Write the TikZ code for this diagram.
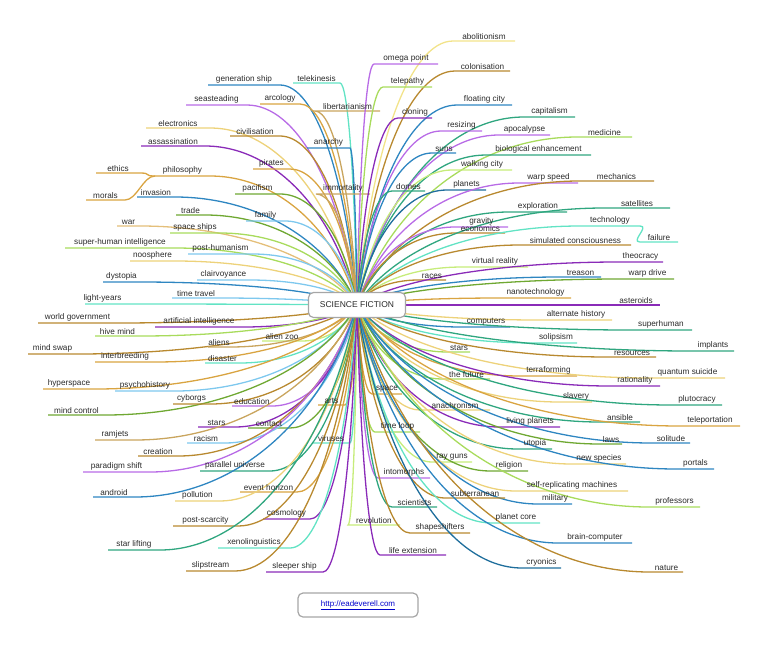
\documentclass[tikz,border=0pt]{standalone}
\usepackage{fontspec}
\setmainfont{Liberation Sans}
\usetikzlibrary{calc}
\pgfdeclarelayer{bg}
\pgfsetlayers{bg,main}
\definecolor{bl}{HTML}{2E86C1}
\definecolor{db}{HTML}{1F6E9C}
\definecolor{lb}{HTML}{7EC8EE}
\definecolor{pu}{HTML}{8A2BB8}
\definecolor{lp}{HTML}{B86BE6}
\definecolor{go}{HTML}{D9A441}
\definecolor{lgo}{HTML}{EDD27A}
\definecolor{br}{HTML}{B8892F}
\definecolor{tn}{HTML}{C9A55E}
\definecolor{te}{HTML}{2FA67F}
\definecolor{aq}{HTML}{62E3C4}
\definecolor{gr}{HTML}{6FA832}
\definecolor{lg}{HTML}{A8DB5C}
\definecolor{yg}{HTML}{C6EC7A}
\definecolor{ye}{HTML}{F2E38A}
\definecolor{txt}{HTML}{2A2A2A}
\newcommand\br[6]{%
 \coordinate (#1a) at (#2,#4); \coordinate (#1b) at (#3,#4);
 \pgfmathtruncatemacro\sd{#3<357}%
 \ifnum\sd=1 \def\ex{#3}\def\en{#1b}\def\eo{#1a}\else\def\ex{#2}\def\en{#1a}\def\eo{#1b}\fi
 \pgfmathsetmacro\cax{357+0.15*(\ex-357)}%
 \pgfmathsetmacro\cay{305+0.6*(#4-305)}%
 \pgfmathsetmacro\cbx{\ex-0.45*(\ex-357)}%
 \begin{pgfonlayer}{bg}
 \draw[con,#5] (root.center) .. controls (\cax,\cay) and (\cbx,#4) .. (\en) -- (\eo);
 \end{pgfonlayer}
 \node[lab] (#1) at ($(#1a)!0.5!(#1b)$) {#6};
}
\newcommand\sub[7]{% name parentcoord x1 x2 y color text
 \coordinate (#1a) at (#3,#5); \coordinate (#1b) at (#4,#5);
 \draw[con,#6] (#2) .. controls +(-12,0) and +(12,0) .. (#1b) -- (#1a);
 \node[lab] (#1) at ($(#1a)!0.5!(#1b)$) {#7};
}
\begin{document}
\begin{tikzpicture}[x=1pt,y=-1pt,
 con/.style={line width=1.3pt},
 lab/.style={anchor=south,inner sep=1.2pt,font=\fontsize{8.2}{9}\selectfont,text=txt}]
\useasboundingbox (0,0) rectangle (768,649);
\node[draw=gray!70,line width=1.2pt,rounded corners=5pt,fill=white,minimum width=97pt,minimum height=25pt,font=\fontsize{8.5}{10}\selectfont,text=txt] (root) at (357,305) {SCIENCE FICTION};
\node[draw=gray!70,line width=1.2pt,rounded corners=5pt,fill=white,minimum width=120pt,minimum height=24pt,font=\fontsize{8}{10}\selectfont,text=blue!80!black] (link) at (358,605) {\underline{http://eadeverell.com}};
% top-left
\br{n1}{208}{280}{85}{bl}{generation ship}
\br{n2}{293}{340}{83}{aq}{telekinesis}
\br{n3}{186}{247}{105}{lp}{seasteading}
\br{n4}{260}{300}{104}{go}{arcology}
\br{n5}{315}{380}{111}{tn}{libertarianism}
\br{n6}{146}{210}{128}{lgo}{electronics}
\br{n7}{230}{280}{136}{br}{civilisation}
\br{n8}{141}{205}{146}{pu}{assassination}
\br{n9}{307}{350}{148}{bl}{anarchy}
\br{n10}{253}{290}{169}{go}{pirates}
\br{n12}{155}{210}{176}{go}{philosophy}
\sub{n11}{n12a}{96}{140}{173}{go}{ethics}
\sub{n13}{n12a}{86}{125}{200}{go}{morals}
\br{n14}{137}{175}{197}{bl}{invasion}
\br{n15}{235}{280}{194}{gr}{pacifism}
\br{n16}{316}{370}{194}{tn}{immortality}
\br{n17}{176}{205}{215}{gr}{trade}
\br{n18}{246}{285}{221}{lb}{family}
\br{n19}{117}{140}{226}{go!70}{war}
\br{n20}{170}{220}{233}{lg}{space ships}
\br{n21}{65}{175}{248}{lg}{super-human intelligence}
\br{n22}{188}{253}{254}{lb}{post-humanism}
\br{n23}{130}{175}{261}{lgo}{noosphere}
\br{n24}{103}{140}{282}{bl}{dystopia}
\br{n25}{197}{250}{280}{lb}{clairvoyance}
\br{n26}{85}{120}{304}{aq}{light-years}
\br{n27}{172}{220}{298}{lb}{time travel}
% bottom-left
\br{n28}{38}{117}{323}{br}{world government}
\br{n29}{155}{243}{327}{pu}{artificial intelligence}
\br{n30}{95}{140}{336}{lg}{hive mind}
\br{n31}{262}{302}{341}{yg}{alien zoo}
\br{n32}{28}{77}{354}{br}{mind swap}
\br{n33}{208}{230}{347}{tn}{aliens}
\br{n34}{95}{155}{362}{go}{interbreeding}
\br{n35}{205}{240}{363}{aq}{disaster}
\br{n36}{43}{95}{389}{go}{hyperspace}
\br{n37}{115}{175}{391}{lb}{psychohistory}
\br{n38}{48}{105}{415}{gr}{mind control}
\br{n39}{173}{210}{404}{br}{cyborgs}
\br{n40}{232}{272}{406}{lp}{education}
\br{n41}{318}{345}{405}{go}{arts}
\br{n42}{198}{235}{427}{pu}{stars}
\br{n43}{248}{290}{428}{gr}{contact}
\br{n44}{95}{135}{440}{tn}{ramjets}
\br{n45}{187}{225}{443}{lb}{racism}
\br{n46}{312}{350}{443}{aq}{viruses}
\br{n47}{138}{178}{456}{br}{creation}
\br{n48}{83}{150}{472}{lp}{paradigm shift}
\br{n49}{200}{270}{471}{te}{parallel universe}
\br{n50}{93}{135}{497}{bl}{android}
\br{n51}{240}{297}{492}{go}{event horizon}
\br{n52}{175}{220}{501}{lgo}{pollution}
\br{n53}{263}{310}{519}{pu}{cosmology}
\br{n54}{348}{400}{525}{yg}{revolution}
\br{n55}{173}{238}{526}{br}{post-scarcity}
\br{n56}{108}{160}{550}{te}{star lifting}
\br{n57}{218}{290}{548}{aq}{xenolinguistics}
\br{n58}{186}{235}{571}{br}{slipstream}
\br{n59}{266}{323}{572}{pu}{sleeper ship}
% center bottom
\br{n60}{372}{402}{394}{go}{space}
\br{n61}{375}{420}{432}{lg}{time loop}
\br{n62}{378}{430}{478}{lp}{intomorphs}
\br{n63}{392}{437}{507}{te}{scientists}
\br{n64}{410}{470}{533}{br}{shapeshifters}
\br{n65}{380}{446}{555}{pu}{life extension}
% right bottom
\br{n67}{462}{510}{327}{bl}{computers}
\br{n68}{540}{612}{320}{lgo}{alternate history}
\br{n69}{630}{692}{330}{te}{superhuman}
\br{n70}{535}{577}{343}{aq}{solipsism}
\br{n71}{608}{656}{357}{br}{resources}
\br{n72}{692}{734}{351}{te}{implants}
\br{n73}{448}{470}{352}{lg}{stars}
\br{n74}{520}{577}{376}{go}{terraforming}
\br{n75}{650}{725}{378}{lgo}{quantum suicide}
\br{n76}{610}{660}{386}{pu}{rationality}
\br{n77}{443}{490}{379}{lg}{the future}
\br{n78}{560}{592}{402}{lgo}{slavery}
\br{n79}{672}{722}{405}{te}{plutocracy}
\br{n80}{600}{640}{422}{te}{ansible}
\br{n81}{680}{740}{426}{go}{teleportation}
\br{n82}{420}{490}{410}{lgo}{anachronism}
\br{n83}{500}{560}{427}{pu}{living planets}
\br{n84}{600}{622}{444}{gr}{laws}
\br{n85}{652}{690}{443}{bl}{solitude}
\br{n86}{518}{552}{449}{te}{utopia}
\br{n87}{572}{626}{464}{lgo}{new species}
\br{n88}{677}{714}{469}{bl}{portals}
\br{n89}{432}{472}{462}{yg}{ray guns}
\br{n90}{490}{528}{471}{gr}{religion}
\br{n91}{516}{628}{491}{lgo}{self-replicating machines}
\br{n92}{538}{572}{504}{bl}{military}
\br{n93}{649}{700}{507}{lg}{professors}
\br{n94}{445}{505}{498}{br}{subterranean}
\br{n95}{492}{540}{523}{aq}{planet core}
\br{n96}{558}{632}{543}{bl}{brain-computer}
\br{n97}{522}{561}{568}{db}{cryonics}
\br{n98}{650}{683}{572}{br}{nature}
% top right
\br{n99}{453}{515}{41}{ye}{abolitionism}
\br{n100}{374}{438}{64}{lp}{omega point}
\br{n101}{455}{510}{71}{br}{colonisation}
\br{n102}{383}{432}{87}{lg}{telepathy}
\br{n103}{457}{512}{105}{bl}{floating city}
\br{n104}{398}{432}{118}{pu}{cloning}
\br{n105}{524}{575}{117}{te}{capitalism}
\br{n106}{441}{482}{131}{lp}{resizing}
\br{n107}{499}{550}{135}{lp}{apocalypse}
\br{n108}{577}{632}{137}{lg}{medicine}
\br{n109}{432}{456}{153}{bl}{suns}
\br{n110}{486}{591}{155}{te}{biological enhancement}
\br{n111}{452}{512}{170}{yg}{walking city}
\br{n112}{392}{425}{191}{te}{domes}
\br{n113}{447}{486}{190}{db}{planets}
\br{n114}{519}{578}{183}{lp}{warp speed}
\br{n115}{579}{654}{181}{br}{mechanics}
\br{n116}{509}{567}{212}{te}{exploration}
\br{n117}{455}{508}{227}{lp}{gravity}
\br{n118}{456}{505}{233}{br}{economics}
\br{n119}{604}{670}{208}{te}{satellites}
\br{n120}{580}{640}{226}{aq}{technology}
\coordinate (n121a) at (678,242); \coordinate (n121b) at (640,242);
\draw[con,aq] (n120b) .. controls +(10,0) and +(-10,0) .. (n121b) -- (n121a);
\node[lab] (n121) at ($(n121a)!0.5!(n121b)$) {failure};
\br{n122}{520}{631}{245}{br}{simulated consciousness}
\br{n123}{462}{528}{267}{yg}{virtual reality}
\br{n124}{418}{446}{280}{br}{races}
\br{n125}{618}{663}{262}{pu}{theocracy}
\br{n126}{560}{601}{277}{bl}{treason}
\br{n127}{621}{674}{279}{gr}{warp drive}
\br{n128}{500}{571}{298}{go}{nanotechnology}
\br{n129}{612}{660}{305}{pu}{asteroids}
\end{tikzpicture}
\end{document}
